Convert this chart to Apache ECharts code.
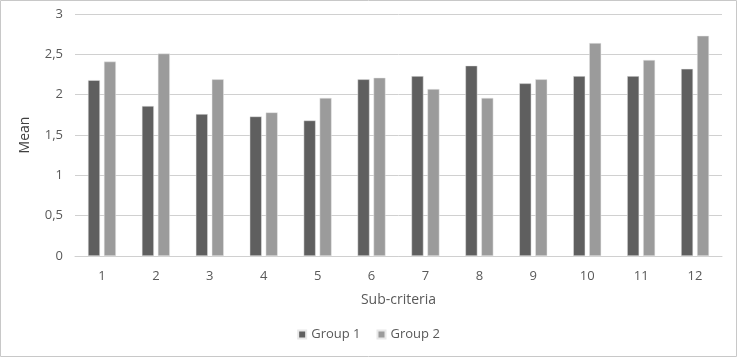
<!DOCTYPE html>
<html><head><meta charset="utf-8">
<script src="https://cdn.jsdelivr.net/npm/echarts@6/dist/echarts.min.js"></script>
<style>html,body{margin:0;padding:0;background:#fff}#c{width:737px;height:357px}</style>
</head><body><div id="c"></div>
<script>
const categories = ['1','2','3','4','5','6','7','8','9','10','11','12'];
const group1 = [2.18, 1.86, 1.76, 1.73, 1.68, 2.19, 2.23, 2.36, 2.14, 2.23, 2.23, 2.32];
const group2 = [2.41, 2.51, 2.19, 1.78, 1.96, 2.21, 2.07, 1.96, 2.19, 2.64, 2.43, 2.73];
const seriesNames = ['Group 1', 'Group 2'];

const font = 'Open Sans';
const chart = echarts.init(document.getElementById('c'));
chart.setOption({
  animation: false,
  textStyle: { fontFamily: font },
  graphic: [{ type: 'rect', shape: { x: 0.5, y: 0.5, width: 736, height: 356 }, style: { fill: 'none', stroke: '#c8c8c8', lineWidth: 1 }, silent: true }],
  grid: { left: 75, right: 15, top: 14, bottom: 101 },
  legend: {
    bottom: 11, left: 'center', itemWidth: 8, itemHeight: 8, itemGap: 16,
    icon: 'rect',
    textStyle: { color: '#595959', fontSize: 13, fontFamily: font },
    data: seriesNames
  },
  xAxis: {
    type: 'category', data: categories,
    name: 'Sub-criteria', nameLocation: 'middle', nameGap: 37,
    nameTextStyle: { color: '#595959', fontSize: 14, fontFamily: font },
    axisLine: { lineStyle: { color: '#d0d0d0' } },
    axisTick: { show: false },
    axisLabel: { color: '#595959', fontSize: 13, margin: 14, fontFamily: font }
  },
  yAxis: {
    type: 'value', min: 0, max: 3, interval: 0.5,
    name: 'Mean', nameLocation: 'middle', nameGap: 43, nameRotate: 90,
    nameTextStyle: { color: '#404040', fontSize: 14, fontFamily: font },
    axisLine: { show: false }, axisTick: { show: false },
    axisLabel: { color: '#595959', fontSize: 13, margin: 12, fontFamily: font,
      formatter: v => String(v).replace('.', ',') },
    splitLine: { lineStyle: { color: '#d0d0d0', width: 1 } }
  },
  series: [
    { name: seriesNames[0], type: 'bar', data: group1, barWidth: 12, barGap: '33%',
      itemStyle: { color: '#5f5f5f', borderColor: '#e8e8e8', borderWidth: 0.5 } },
    { name: seriesNames[1], type: 'bar', data: group2, barWidth: 12,
      itemStyle: { color: '#9b9b9b', borderColor: '#e8e8e8', borderWidth: 0.5 } }
  ]
});
</script></body></html>
